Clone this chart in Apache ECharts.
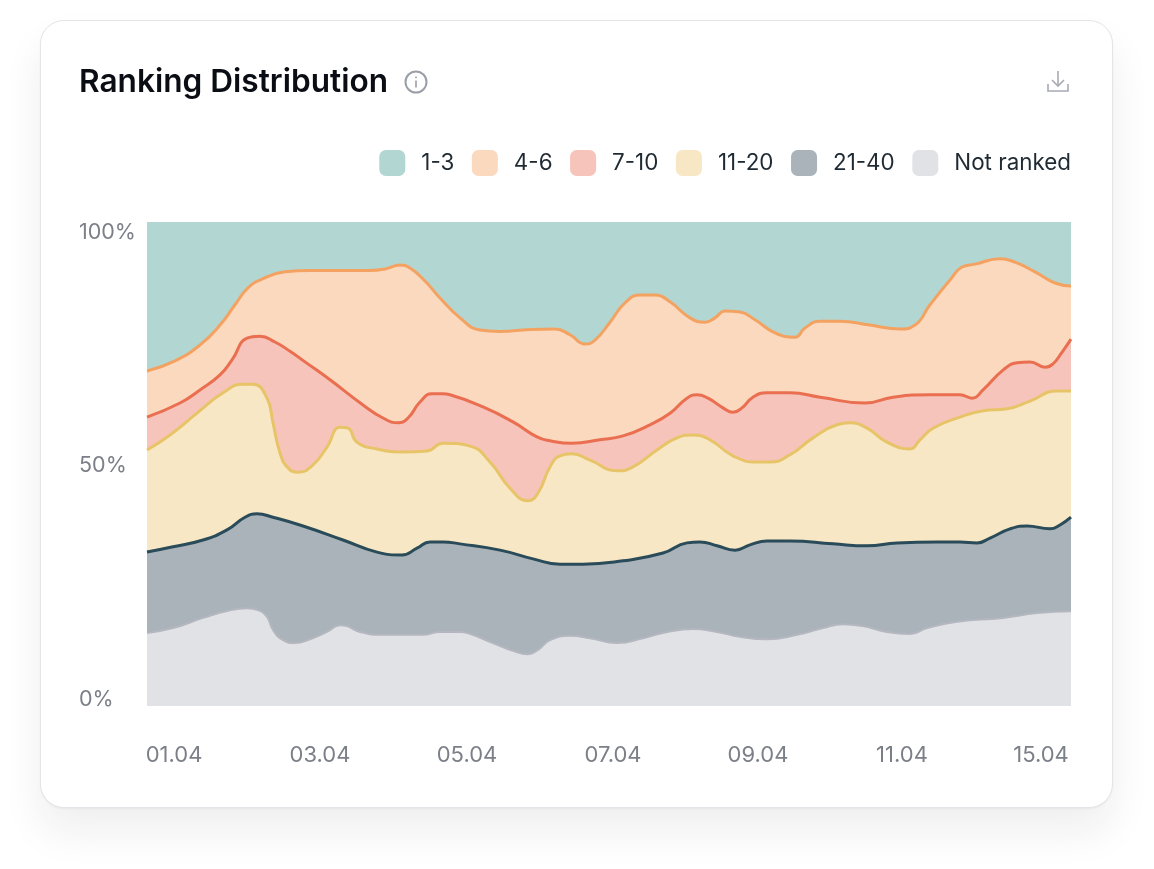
<!DOCTYPE html>
<html><head><meta charset="utf-8">
<style>
html,body{margin:0;padding:0;background:#fff;width:1154px;height:869px;overflow:hidden}
#card{position:absolute;left:40px;top:20px;width:1071px;height:786px;background:#fff;border:1px solid #e3e5e9;border-radius:24px;box-shadow:0 24px 40px rgba(30,35,45,.07),0 1px 2px rgba(30,35,45,.05)}
#c{position:absolute;left:0;top:0;width:1154px;height:869px}
</style>
<script src="https://cdn.jsdelivr.net/npm/echarts@6/dist/echarts.min.js"></script>
</head><body><div id="card"></div><div id="c"></div>
<script>
// x values are positions along the 01.04-15.04 period (0 = start, 924 = end); y values are cumulative %
const seriesNames = ['1-3','4-6','7-10','11-20','21-40','Not ranked'];
const xTop = [0,924];
const yTop = [100,100];
const x46 = [0,28,53,73,88,101,115,138,163,193,223,238,253,263,278,293,313,333,353,383,408,423,438,448,463,478,493,508,523,543,558,568,578,593,608,628,648,658,673,693,723,753,768,783,803,815,828,853,868,888,908,924];
const y46 = [69.2,71.3,74.6,78.7,82.9,86.4,88.2,89.7,90.0,90.0,90.0,90.3,91.1,90.5,87.8,84.3,80.2,77.7,77.4,77.8,77.9,76.7,74.8,75.6,79.3,83.3,84.9,84.9,83.5,80.2,79.3,80.2,81.6,81.4,79.8,77.1,76.2,78.1,79.5,79.5,78.7,77.9,78.7,82.9,88.0,90.7,91.3,92.4,91.7,89.7,87.4,86.8];
const x710 = [0,33,53,73,85,100,113,128,143,158,183,216,236,251,261,273,285,296,303,336,366,390,403,425,453,476,503,523,540,550,561,576,586,595,606,620,643,673,718,746,783,813,825,836,856,870,883,898,906,913,924];
const y710 = [59.7,62.6,65.3,68.4,71.5,76.0,76.4,75.2,73.3,71.1,67.4,62.2,59.5,58.5,59.5,62.8,64.5,64.5,64.3,61.8,58.7,55.6,54.8,54.3,55.0,55.8,58.1,60.5,63.6,64.3,63.6,61.6,60.7,61.6,63.8,64.7,64.7,63.8,62.6,63.8,64.3,64.3,63.6,65.3,69.4,70.9,71.1,70.0,70.7,72.5,75.8];
const x1120 = [0,23,50,76,96,106,120,126,133,141,151,165,180,193,201,210,230,256,280,296,323,343,363,381,391,403,413,425,443,470,486,510,530,546,563,586,610,623,643,666,690,703,720,740,763,773,786,813,836,860,883,910,924];
const y1120 = [52.9,56.0,60.5,64.7,66.5,66.5,63.6,58.5,52.3,49.2,48.3,49.6,53.5,57.6,57.4,54.5,53.1,52.5,52.7,54.3,53.7,50.4,45.0,42.4,44.0,49.4,51.7,52.1,50.8,48.6,49.4,52.9,55.4,56.0,55.0,51.7,50.4,50.4,51.9,55.4,58.1,58.5,57.4,54.5,53.1,55.0,57.4,59.7,61.0,61.4,63.0,65.1,65.1];
const x2140 = [0,26,56,80,98,110,126,156,196,230,255,270,283,296,313,353,386,413,436,476,516,540,553,570,588,603,620,643,686,720,750,790,813,830,843,863,880,903,913,924];
const y2140 = [31.8,32.9,34.3,36.4,39.0,39.7,39.0,37.2,34.3,31.8,31.2,32.6,33.9,33.9,33.5,32.2,30.4,29.3,29.3,30.0,31.6,33.7,33.9,33.1,32.2,33.3,34.1,34.1,33.5,33.1,33.7,33.9,33.9,33.7,34.7,36.6,37.2,36.6,37.4,39.0];
const xNot = [0,26,56,83,100,111,120,126,136,148,163,180,193,200,213,236,276,293,313,323,346,366,381,391,403,423,443,470,496,520,546,570,593,620,650,676,696,716,740,763,780,810,856,890,924];
const yNot = [15.1,16.1,18.2,19.8,20.2,19.8,18.4,15.7,13.6,13.0,13.8,15.3,16.7,16.5,15.3,14.7,14.7,15.3,15.3,14.9,13.0,11.4,10.7,11.6,13.6,14.5,14.0,13.0,14.0,15.3,15.9,15.3,14.3,13.8,14.7,16.1,16.9,16.5,15.3,14.9,16.1,17.4,18.2,19.2,19.6];
const xTickValues = [27,173,320,466,611,755,894];
const xTickLabels = ['01.04','03.04','05.04','07.04','09.04','11.04','15.04'];
const yTickValues = [1.4,49.6,97.9];
const yTickLabels = ['0%','50%','100%'];
const fills = ['#B2D7D2','#FBD9BF','#F6C4BA','#F7E7C4','#A9B3B9','#E0E2E6'];
const strokes = ['#B2D7D2','#F4A261','#EA6F50','#E8C468','#2A4B59','#B4B7BF'];
const widths = [0,3,3,3,3,2];
const xs = [xTop,x46,x710,x1120,x2140,xNot];
const ys = [yTop,y46,y710,y1120,y2140,yNot];
const F = 'Inter, "Noto Sans", sans-serif';
const chart = echarts.init(document.getElementById('c'),null,{renderer:'canvas'});
chart.setOption({
  animation:false,
  title:{text:'Ranking Distribution',left:79,top:63,padding:0,textStyle:{fontFamily:F,fontSize:31.6,fontWeight:600,color:'#0A0E14',lineHeight:38}},
  legend:{right:83,top:150,padding:0,itemWidth:26,itemHeight:26,itemGap:17.6,selectedMode:false,
    textStyle:{fontFamily:F,fontSize:22.4,color:'#1F2A33',padding:[2,0,0,11]},
    data:seriesNames.map((n,i)=>({name:n,icon:'roundRect',itemStyle:{color:fills[i],borderWidth:0}}))},
  grid:{left:147,top:222,width:924,height:484},
  xAxis:{type:'value',min:0,max:924,axisLine:{show:false},axisTick:{show:false},splitLine:{show:false},
    axisLabel:{customValues:xTickValues,margin:38,fontFamily:F,fontSize:22,color:'#7B7F87',
      formatter:(v)=>xTickLabels[xTickValues.indexOf(v)]}},
  yAxis:{type:'value',min:0,max:100,axisLine:{show:false},axisTick:{show:false},splitLine:{show:false},
    axisLabel:{customValues:yTickValues,margin:68,align:'left',fontFamily:F,fontSize:21.5,color:'#7B7F87',
      formatter:(v)=>yTickLabels[yTickValues.indexOf(v)]}},
  series:seriesNames.map((n,i)=>({
    name:n,type:'line',z:2+i,smooth:i===0?false:0.5,showSymbol:false,symbol:'none',
    data:xs[i].map((x,j)=>[x,ys[i][j]]),
    lineStyle:{color:strokes[i],width:widths[i]},
    itemStyle:{color:fills[i]},
    areaStyle:{color:fills[i],opacity:1},
    emphasis:{disabled:true}
  })),
  graphic:[
    {type:'circle',shape:{cx:416,cy:82,r:10.5},style:{fill:'none',stroke:'#9A9EA6',lineWidth:2},silent:true},
    {type:'rect',shape:{x:415.2,y:80.5,width:1.6,height:7},style:{fill:'#9A9EA6'},silent:true},
    {type:'rect',shape:{x:415.2,y:76.5,width:1.6,height:1.8},style:{fill:'#9A9EA6'},silent:true},
    {type:'polyline',shape:{points:[[1048,84],[1048,91],[1068,91],[1068,84]]},style:{fill:'none',stroke:'#A7ABB2',lineWidth:1.6},silent:true},
    {type:'line',shape:{x1:1058,y1:71,x2:1058,y2:86},style:{stroke:'#A7ABB2',lineWidth:1.6},silent:true},
    {type:'polyline',shape:{points:[[1052,80],[1058,86],[1064,80]]},style:{fill:'none',stroke:'#A7ABB2',lineWidth:1.6},silent:true}
  ]
});
</script></body></html>
